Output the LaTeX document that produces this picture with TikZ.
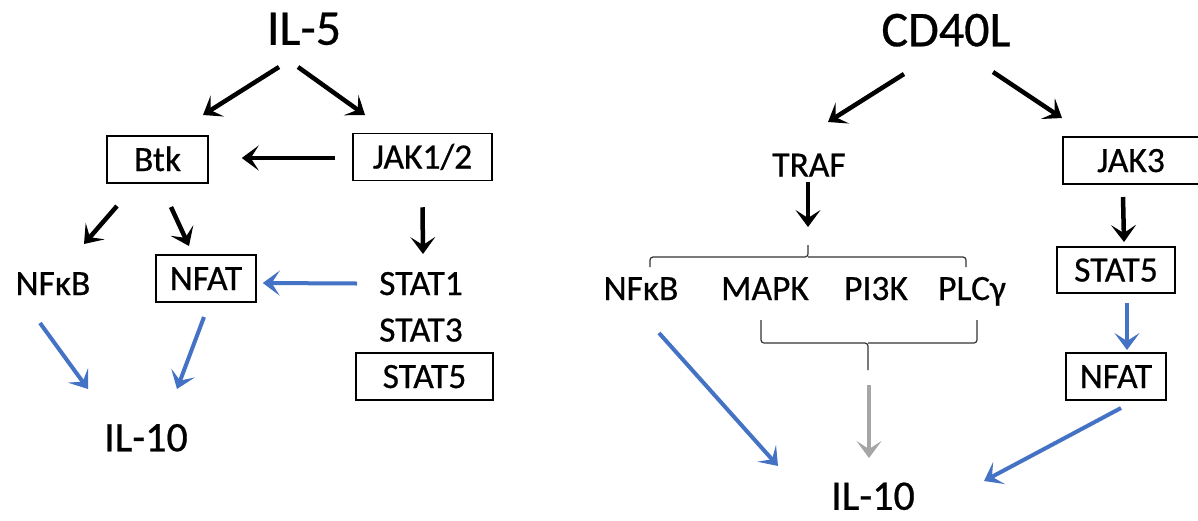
\documentclass[tikz,border=0pt]{standalone}
\usepackage{fontspec}
\setmainfont[FakeBold=0.6,AutoFakeBold=false]{Carlito}
\usetikzlibrary{arrows.meta,calc}
\definecolor{sigblue}{HTML}{4472C4}
\definecolor{siggrey}{HTML}{A6A6A6}
\tikzstyle{cytokine} = [inner sep=0pt, text height=32.5pt, text depth=0pt, font=\fontsize{50}{60}\selectfont]
\tikzstyle{protein} = [inner sep=0pt, text height=23pt, text depth=0pt, font=\fontsize{35.5}{42}\selectfont]
\tikzstyle{proteinbox} = [protein, draw=black, line width=1.5pt, minimum height=47pt]
\tikzstyle{product} = [inner sep=0pt, text height=27.5pt, text depth=0pt, font=\fontsize{42}{50}\selectfont]
\tikzstyle{blackarrow} = [line width=4.5pt, -{Stealth[length=17pt,width=25pt,inset=8pt]}]
\tikzstyle{bluearrow} = [blackarrow, draw=sigblue, line width=4pt]
\tikzstyle{greyarrow} = [blackarrow, draw=siggrey]
\tikzstyle{bracketline} = [draw=black!80, line width=1.2pt, rounded corners=3pt]

\begin{document}
\begin{tikzpicture}[x=1pt, y=-1pt]
\useasboundingbox (0,0) rectangle (1198,520);

% IL-5 side
\node[cytokine] (il5) at (304,28.5) {IL-5};
\node[proteinbox, minimum width=101pt] (btk) at (157.5,159.5) {Btk};
\node[proteinbox, minimum width=139pt] (jak12) at (422.5,157) {JAK1/2};
\node[protein] (nfkbL) at (53,283.5) {NFκB};
\node[proteinbox, minimum width=100pt] (nfatL) at (206,278.5) {NFAT};
\node[protein] (stat1) at (421,283.5) {STAT1};
\node[protein] (stat3) at (421,330) {STAT3};
\node[proteinbox, minimum width=137pt] (stat5L) at (424.5,376.5) {STAT5};
\node[product] (il10L) at (146,437.5) {IL-10};

\draw[blackarrow] ($(il5)+(-25,38.5)$) -- ($(btk)+(45.5,-44.5)$);
\draw[blackarrow] ($(il5)+(-6,38.5)$) -- ($(jak12)+(-57.5,-42)$);
\draw[blackarrow] ($(jak12.west)+(-17,1)$) -- ($(btk.east)+(33,-1.5)$);
\draw[blackarrow] ($(btk)+(-40.5,46.5)$) -- ($(nfkbL)+(31,-39.5)$);
\draw[blackarrow] ($(btk)+(13.5,47.5)$) -- ($(nfatL)+(-17,-32.5)$);
\draw[blackarrow] ($(jak12.south)+(0,26)$) -- ($(stat1)+(2,-29.5)$);
\draw[bluearrow] ($(stat1)+(-64,0)$) -- ($(nfatL.east)+(6,4.5)$);
\draw[bluearrow] ($(nfkbL)+(-13,39.5)$) -- ($(il10L)+(-58,-48.5)$);
\draw[bluearrow] ($(nfatL)+(-2,38.5)$) -- ($(il10L)+(31,-48.5)$);

% CD40L side
\node[cytokine] (cd40l) at (946,30) {CD40L};
\node[protein] (traf) at (809,165) {TRAF};
\node[proteinbox, minimum width=136pt] (jak3) at (1131,160.5) {JAK3};
\node[protein] (nfkbR) at (641,288.5) {NFκB};
\node[protein] (mapk) at (765,288.5) {MAPK};
\node[protein] (pi3k) at (876,288.5) {PI3K};
\node[protein] (plcg) at (972,288.5) {PLCγ};
\node[proteinbox, minimum width=118pt, minimum height=46pt] (stat5R) at (1116,270) {STAT5};
\node[proteinbox, minimum width=100pt] (nfatR) at (1116,376.5) {NFAT};
\node[product] (il10R) at (873,496) {IL-10};

% brackets
\coordinate (braceA) at (808,245);
\coordinate (braceB) at (868,370);
\draw[bracketline] (650,267) |- (808,257) -- (braceA);
\draw[bracketline] (966,267) |- (808,257);
\draw[bracketline] (761,320) |- (868,343) -- (braceB);
\draw[bracketline] (977,320) |- (868,343);

\draw[blackarrow] ($(cd40l)+(-42,44)$) -- ($(traf)+(19,-43)$);
\draw[blackarrow] ($(cd40l)+(47,42)$) -- ($(jak3)+(-69,-42.5)$);
\draw[blackarrow] ($(traf)+(-1,17)$) -- ($(braceA)+(0,-18)$);
\draw[blackarrow] ($(jak3)+(-8,36.5)$) -- ($(stat5R)+(8,-28)$);
\draw[bluearrow] ($(stat5R)+(11,33)$) -- ($(nfatR)+(11,-26.5)$);
\draw[bluearrow] ($(nfatR)+(5,31.5)$) -- ($(il10R)+(111,-15)$);
\draw[bluearrow] ($(nfkbR)+(18,44.5)$) -- ($(il10R)+(-95,-30)$);
\draw[greyarrow] ($(braceB)+(1,15)$) -- ($(il10R)+(-4,-38)$);
\end{tikzpicture}
\end{document}
